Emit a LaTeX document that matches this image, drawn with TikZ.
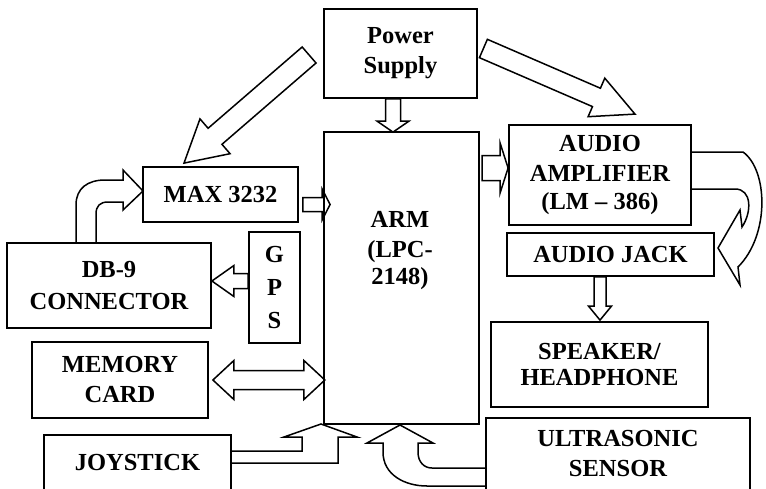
\documentclass[tikz,border=0pt]{standalone}
\usepackage{fontspec}
\setmainfont{Liberation Serif}
\usetikzlibrary{calc,backgrounds}

% hollow block arrow: tail, tip, half shaft, half head, head length
\newcommand\blockarrow[5]{%
  \path let \p1=($(#2)-(#1)$) in \pgfextra{%
    \pgfmathsetmacro\barang{atan2(\y1,\x1)}%
    \pgfmathsetmacro\barlen{veclen(\x1,\y1)}%
    \global\let\barang\barang \global\let\barlen\barlen};
  \draw[blk,shift={(#1)},rotate=\barang]
    (0,#3) -- (\barlen-#5,#3) -- (\barlen-#5,#4) -- (\barlen,0)
    -- (\barlen-#5,-#4) -- (\barlen-#5,-#3) -- (0,-#3) -- cycle;}

\begin{document}
\begin{tikzpicture}[x=1pt,y=-1pt,
  box/.style={draw,line width=1.8pt,inner sep=0pt,align=center,
    font=\fontsize{24.5}{30}\selectfont\bfseries},
  blk/.style={draw,line width=1.5pt,fill=white,line join=miter}]
\useasboundingbox (0,0) rectangle (766,488);
\clip (0,0) rectangle (766,488);

% blocks
\node[box,minimum width=153pt,minimum height=89pt] (pwr) at (400.5,53.5) {Power\\Supply};
\node[box,minimum width=155pt,minimum height=55pt] (max) at (220.5,194.5) {MAX 3232};
\node[box,minimum width=155pt,minimum height=292pt] (arm) at (401.5,278) {};
\node[font=\fontsize{24.5}{30}\selectfont\bfseries,align=center] (armtxt) at (400,251) {ARM\\(LPC-\\[-3pt]2148)};
\node[box,minimum width=182pt,minimum height=100pt] (amp) at (600,175) {AUDIO\\AMPLIFIER\\[-2pt](LM -- 386)};
\node[box,minimum width=207pt,minimum height=43pt] (jack) at (610.5,254.5) {AUDIO JACK};
\node[box,minimum width=217pt,minimum height=85pt] (spk) at (599.5,364.5) {SPEAKER/\\[-4pt]HEADPHONE};
\node[box,minimum width=264pt,minimum height=72pt] (ultra) at (618,454) {ULTRASONIC\\SENSOR};
\node[box,minimum width=204pt,minimum height=85pt] (db9) at (109,285.5) {DB-9\\[2pt]CONNECTOR};
\node[box,minimum width=51pt,minimum height=111pt] (gps) at (274.5,287.5) {G\\[3pt]P\\[3pt]S};
\node[box,minimum width=176pt,minimum height=76pt] (mem) at (120,380) {MEMORY\\CARD};
\node[box,minimum width=187pt,minimum height=55pt] (joy) at (137.5,462.5) {JOYSTICK};

\begin{scope}[on background layer]
% straight block arrows
\coordinate (pmA) at ($(pwr.west)+(-14,1.5)$);
\coordinate (pmB) at ($(max.north)+(-36.5,-3)$);
\coordinate (paA) at ($(pwr.east)+(5.5,-5)$);
\coordinate (paB) at ($(amp.north)+(35,-10)$);
\coordinate (prA) at ($(pwr.south)+(-7.5,0)$);
\coordinate (prB) at ($(arm.north)+(-8.5,1)$);
\coordinate (mrA) at ($(max.east)+(4,10)$);
\coordinate (mrB) at ($(arm.west|-max.east)+(7,10)$);
\coordinate (raA) at ($(amp.west)+(-26,-7)$);
\coordinate (raB) at ($(amp.west)+(0,-7)$);
\coordinate (gdA) at ($(gps.west)+(0,-6.5)$);
\coordinate (gdB) at ($(db9.east)+(0,-4.5)$);
\coordinate (jsA) at ($(jack.south)+(-10.5,0)$);
\coordinate (jsB) at ($(spk.north)+(0.5,-1)$);
\foreach \a/\b/\s/\h/\l in {pmA/pmB/10.6/23/41, paA/paB/10/21/42,
  prA/prB/7.5/16/11, mrA/mrB/7/15.5/8, raA/raB/12.5/25/8,
  gdA/gdB/7.5/15.5/22, jsA/jsB/6/11.5/14} {
  \blockarrow{\a}{\b}{\s}{\h}{\l}
}
% memory card <-> arm
\draw[blk] ($(mem.east)+(4,0)$) -- ++(21,-19.5) -- ++(0,10) -- ++(70,0)
  -- ++(0,-10) -- ++(21,19.5) -- ++(-21,19.5) -- ++(0,-10) -- ++(-70,0)
  -- ++(0,10) -- cycle;
% db-9 up into max 3232
\draw[blk] (76,243) -- (76,205) .. controls (76,188) and (88,180) .. (105,180)
  -- (123,180) -- (123,170) -- (143,191) -- (123,210) -- (123,202) -- (108,202)
  .. controls (100,202) and (96,206) .. (96,214) -- (96,243);
% amplifier round to audio jack
\draw[blk] (691,152) -- (743,152) .. controls (768,170) and (770,235) .. (738,267)
  -- (740,285) -- (718,248) -- (740,210) -- (742,227)
  .. controls (752,212) and (752,189) .. (735,189) -- (691,189);
% joystick up into arm
\draw[blk] (231,451) -- (302,451) -- (302,437) -- (284,437) -- (321,424)
  -- (357,437) -- (338,437) -- (338,463) -- (231,463);
% ultrasonic up into arm
\draw[blk] (486,468) -- (432,468) .. controls (424,468) and (418,462) .. (418,452)
  -- (418,443) -- (433,443) -- (400,425) -- (367,443) -- (383,443) -- (383,452)
  .. controls (383,475) and (405,486) .. (427,486) -- (486,486);
\end{scope}
\end{tikzpicture}
\end{document}
